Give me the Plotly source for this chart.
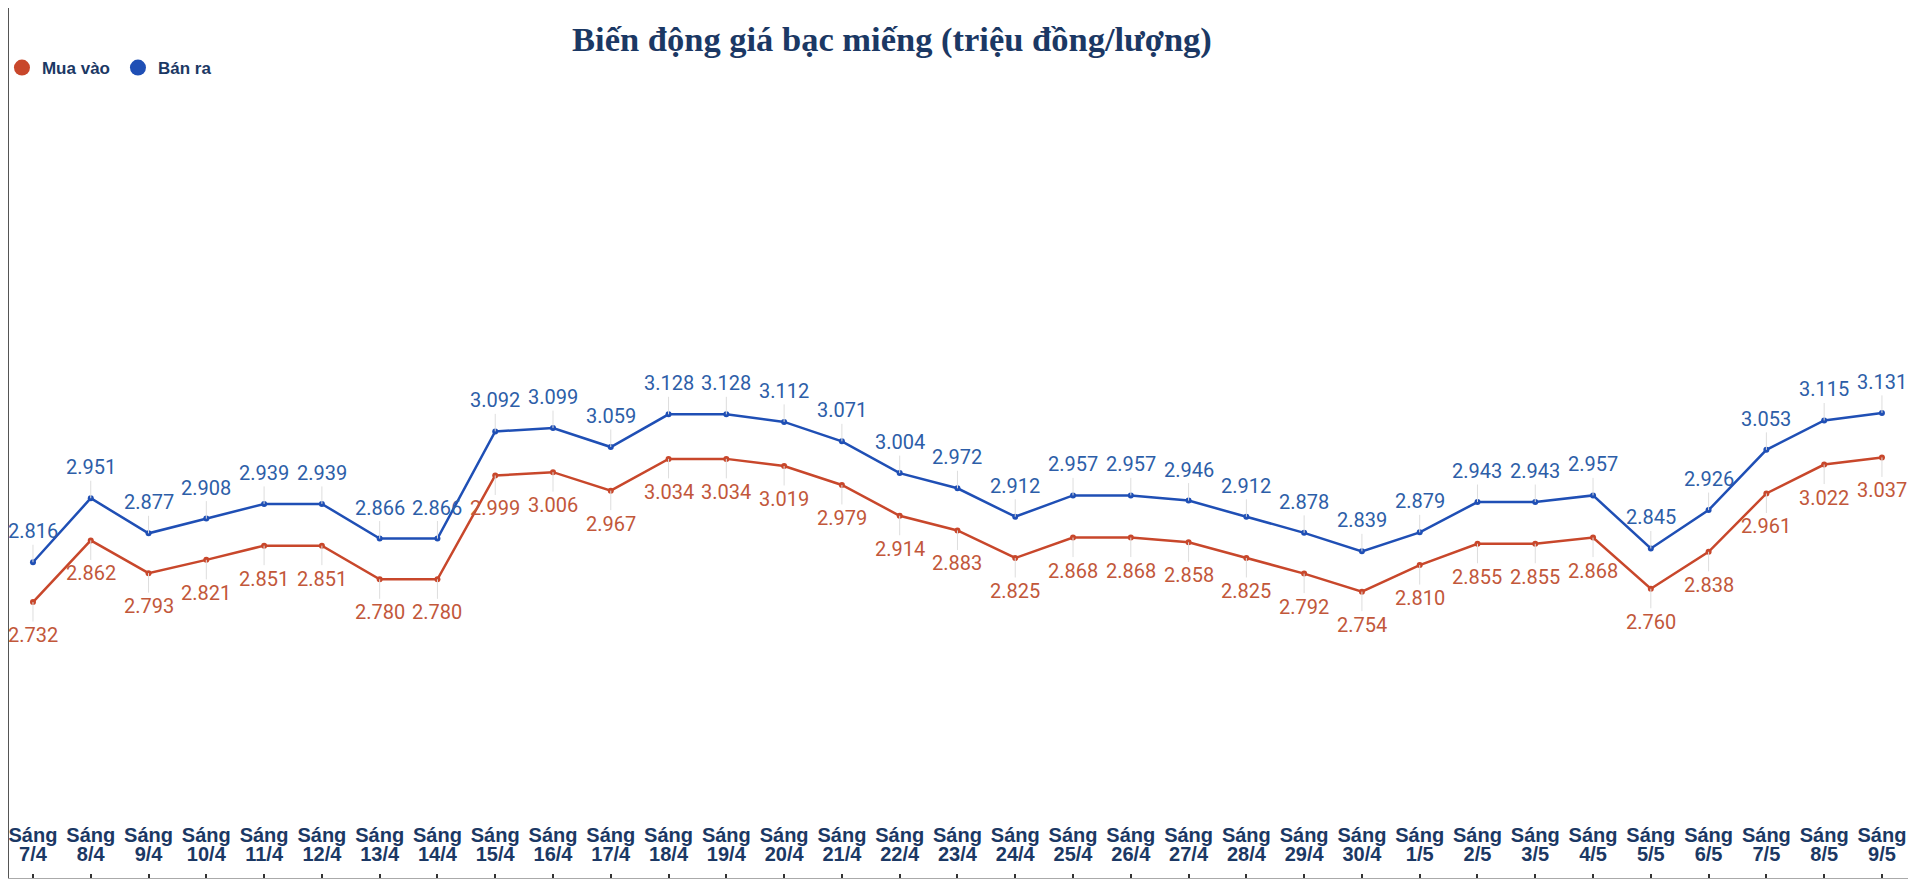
import plotly.graph_objects as go

# --- data (triệu đồng/lượng) ---
dates = ["7/4", "8/4", "9/4", "10/4", "11/4", "12/4", "13/4", "14/4", "15/4", "16/4",
         "17/4", "18/4", "19/4", "20/4", "21/4", "22/4", "23/4", "24/4", "25/4", "26/4",
         "27/4", "28/4", "29/4", "30/4", "1/5", "2/5", "3/5", "4/5", "5/5", "6/5",
         "7/5", "8/5", "9/5"]

mua_vao = [2.732, 2.862, 2.793, 2.821, 2.851, 2.851, 2.780, 2.780, 2.999, 3.006,
           2.967, 3.034, 3.034, 3.019, 2.979, 2.914, 2.883, 2.825, 2.868, 2.868,
           2.858, 2.825, 2.792, 2.754, 2.810, 2.855, 2.855, 2.868, 2.760, 2.838,
           2.961, 3.022, 3.037]

ban_ra = [2.816, 2.951, 2.877, 2.908, 2.939, 2.939, 2.866, 2.866, 3.092, 3.099,
          3.059, 3.128, 3.128, 3.112, 3.071, 3.004, 2.972, 2.912, 2.957, 2.957,
          2.946, 2.912, 2.878, 2.839, 2.879, 2.943, 2.943, 2.957, 2.845, 2.926,
          3.053, 3.115, 3.131]

RED = "#c8472b"
RED_TXT = "#c2573a"
BLUE = "#1f4fb5"
BLUE_TXT = "#2d5ea8"
NAVY = "#1b3864"

X_RANGE = [-0.415, 32.503]

fig = go.Figure()

fig.add_trace(go.Scatter(x=dates, y=mua_vao, mode="lines+markers", name="Mua vào",
                         line=dict(color=RED, width=2.5), marker=dict(size=6, color=RED),
                         showlegend=False, hoverinfo="x+y"))
fig.add_trace(go.Scatter(x=dates, y=ban_ra, mode="lines+markers", name="Bán ra",
                         line=dict(color=BLUE, width=2.5), marker=dict(size=6, color=BLUE),
                         showlegend=False, hoverinfo="x+y"))

# legend shows plain dots only
fig.add_trace(go.Scatter(x=[None], y=[None], mode="markers", name="<b>Mua vào</b>",
                         marker=dict(size=17, color=RED)))
fig.add_trace(go.Scatter(x=[None], y=[None], mode="markers", name="<b>Bán ra</b>",
                         marker=dict(size=17, color=BLUE)))

# empty traces so the two label rows (extra x axes) get drawn
fig.add_trace(go.Scatter(x=[None], y=[None], xaxis="x2", showlegend=False, hoverinfo="skip"))
fig.add_trace(go.Scatter(x=[None], y=[None], xaxis="x3", showlegend=False, hoverinfo="skip"))

# value labels with thin leader lines
annotations = []
for d, v in zip(dates, ban_ra):
    annotations.append(dict(x=d, y=v, text=f"{v:.3f}", showarrow=True, arrowhead=0,
                            arrowwidth=1, arrowcolor="#dddddd", ax=0, ay=-31,
                            font=dict(family="Roboto", size=20, color=BLUE_TXT)))
for d, v in zip(dates, mua_vao):
    annotations.append(dict(x=d, y=v, text=f"{v:.3f}", showarrow=True, arrowhead=0,
                            arrowwidth=1, arrowcolor="#dddddd", ax=0, ay=33,
                            font=dict(family="Roboto", size=20, color=RED_TXT)))

label_font = dict(family="Liberation Sans", size=20, color=NAVY)

fig.update_layout(
    width=1908, height=874,
    margin=dict(l=1, r=5, t=0, b=4, autoexpand=False),
    paper_bgcolor="white", plot_bgcolor="white",
    title=dict(text="<b>Biến động giá bạc miếng (triệu đồng/lượng)</b>",
               x=0.4633, xanchor="center", y=0.9645, yanchor="middle",
               font=dict(family="Liberation Serif", size=34.5, color=NAVY)),
    legend=dict(orientation="h", x=-0.0037, xanchor="left", y=0.931, yanchor="middle",
                entrywidth=71, entrywidthmode="pixels", itemsizing="trace",
                font=dict(family="Liberation Sans", size=17, color=NAVY),
                bgcolor="rgba(0,0,0,0)"),
    annotations=annotations,
    xaxis=dict(type="category", range=X_RANGE, showgrid=False,
               showline=True, linecolor="#aaaaaa", linewidth=1, mirror=True,
               ticks="inside", ticklen=4, tickwidth=2, tickcolor="#333333",
               showticklabels=False),
    # lower label row: dates
    xaxis2=dict(overlaying="x", anchor="free", position=0.0115, range=X_RANGE,
                tickmode="array", tickvals=list(range(len(dates))),
                ticktext=[f"<b>{d}</b>" for d in dates],
                showgrid=False, showline=False, zeroline=False, ticks="",
                ticklabelposition="inside", ticklabeloverflow="allow",
                tickfont=label_font),
    # upper label row: "Sáng"
    xaxis3=dict(overlaying="x", anchor="free", position=0.0335, range=X_RANGE,
                tickmode="array", tickvals=list(range(len(dates))),
                ticktext=["<b>Sáng</b>"] * len(dates),
                showgrid=False, showline=False, zeroline=False, ticks="",
                ticklabelposition="inside", ticklabeloverflow="allow",
                tickfont=label_font),
    yaxis=dict(range=[2.150, 3.985], showgrid=False, zeroline=False,
               showticklabels=False, showline=True, linecolor="#555555",
               linewidth=2, mirror=True),
)

fig.write_html("out.html")
